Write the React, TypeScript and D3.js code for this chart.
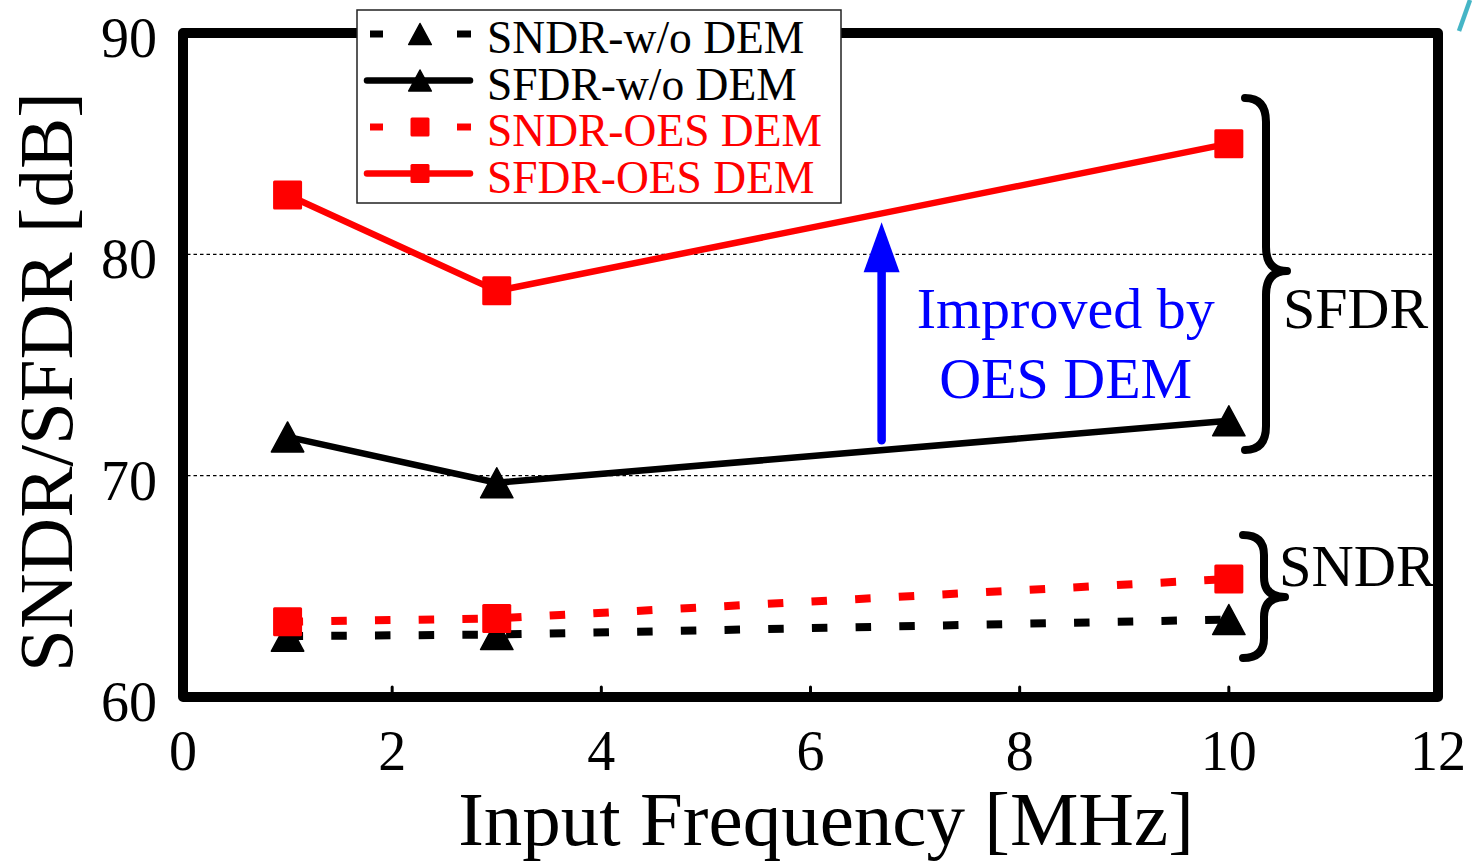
import React from "react";
import * as d3 from "d3";

const freqs = [1, 3, 10];
const sndrWo = [62.75, 62.82, 63.5];
const sfdrWo = [71.75, 69.68, 72.48];
const sndrOes = [63.4, 63.55, 65.33];
const sfdrOes = [82.68, 78.35, 85.0];

const xTicks = [0, 2, 4, 6, 8, 10, 12];
const yTicks = [60, 70, 80, 90];
const gridValues = [70, 80];

const legendLabels = ["SNDR-w/o DEM", "SFDR-w/o DEM", "SNDR-OES DEM", "SFDR-OES DEM"];

const FONT = "'Liberation Serif', 'Times New Roman', serif";
const W = 1473;
const H = 861;

export default function App() {
  const x = d3.scaleLinear().domain([0, 12]).range([183, 1438]);
  const y = d3.scaleLinear().domain([60, 90]).range([697, 33]);

  const line = d3
    .line<[number, number]>()
    .x((d) => x(d[0]))
    .y((d) => y(d[1]));

  const mk = (vals: number[]) => freqs.map((f, i) => [f, vals[i]] as [number, number]);

  const series = [
    { key: "sndrWo", vals: sndrWo, color: "#000", dashed: true, marker: "tri" },
    { key: "sfdrWo", vals: sfdrWo, color: "#000", dashed: false, marker: "tri" },
    { key: "sndrOes", vals: sndrOes, color: "#ff0000", dashed: true, marker: "sq" },
    { key: "sfdrOes", vals: sfdrOes, color: "#ff0000", dashed: false, marker: "sq" },
  ];

  const triPath = (cx: number, cy: number, w: number, h: number) =>
    `M${cx},${cy - h / 2} L${cx + w / 2},${cy + h / 2} L${cx - w / 2},${cy + h / 2} Z`;

  const marker = (type: string, cx: number, cy: number, color: string, size: number, k: string) =>
    type === "tri" ? (
      <path key={k} d={triPath(cx, cy, size * 1.08, size)} fill={color} stroke={color} strokeWidth={1.5} strokeLinejoin="round" />
    ) : (
      <rect key={k} x={cx - size / 2} y={cy - size / 2} width={size} height={size} rx={1.5} fill={color} />
    );

  const brace = (x0: number, xm: number, xt: number, y0: number, ym: number, y1: number, r: number) =>
    `M${x0},${y0} Q${xm},${y0} ${xm},${y0 + r} L${xm},${ym - r} Q${xm},${ym} ${xt},${ym} Q${xm},${ym} ${xm},${ym + r} L${xm},${y1 - r} Q${xm},${y1} ${x0},${y1}`;

  const arrowX = 6.68;
  const arrowTop = 81.45;
  const arrowBottom = 71.6;
  const ax = x(arrowX);
  const aTop = y(arrowTop);
  const aBot = y(arrowBottom);
  const headH = 50;
  const headW = 36;

  const left = x(0);
  const right = x(12);
  const top = y(90);
  const bottom = y(60);

  return (
    <svg
      width={W}
      height={H}
      style={{ position: "absolute", left: 0, top: 0, background: "#fff" }}
      fontFamily={FONT}
    >
      <rect x={0} y={0} width={W} height={H} fill="#fff" />
      {gridValues.map((v) => (
        <line
          key={"g" + v}
          x1={left + 4}
          x2={right - 4}
          y1={y(v)}
          y2={y(v)}
          stroke="#000"
          strokeWidth={1.4}
          strokeDasharray="3.5 3"
        />
      ))}
      {xTicks.slice(1, -1).map((t) => (
        <line key={"xt" + t} x1={x(t)} x2={x(t)} y1={bottom} y2={bottom - 10} stroke="#000" strokeWidth={3} strokeLinecap="round" />
      ))}
      {series.map((s) => (
        <path
          key={s.key}
          d={line(mk(s.vals)) || ""}
          fill="none"
          stroke={s.color}
          strokeWidth={s.dashed ? 8 : 6.5}
          strokeDasharray={s.dashed ? "15.5 28.2" : undefined}
          strokeLinejoin="round"
        />
      ))}
      {series.map((s) =>
        mk(s.vals).map((d, i) => marker(s.marker, x(d[0]), y(d[1]), s.color, s.marker === "tri" ? 30 : 29, s.key + i))
      )}
      <rect
        x={left}
        y={top}
        width={right - left}
        height={bottom - top}
        fill="none"
        stroke="#000"
        strokeWidth={10}
        strokeLinejoin="round"
      />
      {yTicks.map((t) => (
        <text key={"yl" + t} x={157} y={y(t) + 24} textAnchor="end" fontSize={56} fill="#000">
          {t}
        </text>
      ))}
      {xTicks.map((t) => (
        <text key={"xl" + t} x={x(t)} y={770} textAnchor="middle" fontSize={56} fill="#000">
          {t}
        </text>
      ))}
      <text x={826} y={845} textAnchor="middle" fontSize={77} fill="#000">
        Input Frequency [MHz]
      </text>
      <text
        transform={`translate(72, 382) rotate(-90)`}
        textAnchor="middle"
        fontSize={77}
        fill="#000"
      >
        SNDR/SFDR [dB]
      </text>
      <rect x={357} y={10} width={484} height={193} fill="#fff" stroke="#222" strokeWidth={1.5} />
      {series.map((s, i) => {
        const base = 53 + i * 46.5;
        const cy = base - 19;
        return (
          <g key={"lg" + s.key}>
            {s.dashed ? (
              <>
                <line x1={370} x2={383} y1={cy} y2={cy} stroke={s.color} strokeWidth={7} />
                <line x1={457} x2={471} y1={cy} y2={cy} stroke={s.color} strokeWidth={7} />
              </>
            ) : (
              <line x1={367} x2={470} y1={cy} y2={cy} stroke={s.color} strokeWidth={6.5} strokeLinecap="round" />
            )}
            {marker(s.marker, 420, cy, s.color, s.marker === "tri" ? 21 : 19, "lm" + i)}
            <text x={487} y={base} fontSize={45.5} fill={s.color}>
              {legendLabels[i]}
            </text>
          </g>
        );
      })}
      <path d={brace(1245, 1266, 1287, 98, 271, 450, 24)} fill="none" stroke="#000" strokeWidth={8} strokeLinecap="round" strokeLinejoin="round" />
      <text x={1283} y={328} fontSize={58} fill="#000">SFDR</text>
      <path d={brace(1243, 1264, 1285, 535, 597, 658, 20)} fill="none" stroke="#000" strokeWidth={8} strokeLinecap="round" strokeLinejoin="round" />
      <text x={1279} y={586} fontSize={58.5} fill="#000">SNDR</text>
      <line x1={ax} x2={ax} y1={aBot} y2={aTop + headH - 2} stroke="#0000ff" strokeWidth={8.5} strokeLinecap="round" />
      <path d={`M${ax},${aTop} L${ax + headW / 2},${aTop + headH} L${ax - headW / 2},${aTop + headH} Z`} fill="#0000ff" />
      <text x={x(8.44)} y={y(76.67)} textAnchor="middle" fontSize={58} fill="#0000ff">
        Improved by
      </text>
      <text x={x(8.44)} y={y(73.5)} textAnchor="middle" fontSize={58} fill="#0000ff">
        OES DEM
      </text>
      <line x1={1459} y1={31} x2={1470} y2={0} stroke="#45b5c6" strokeWidth={4.5} />
    </svg>
  );
}
